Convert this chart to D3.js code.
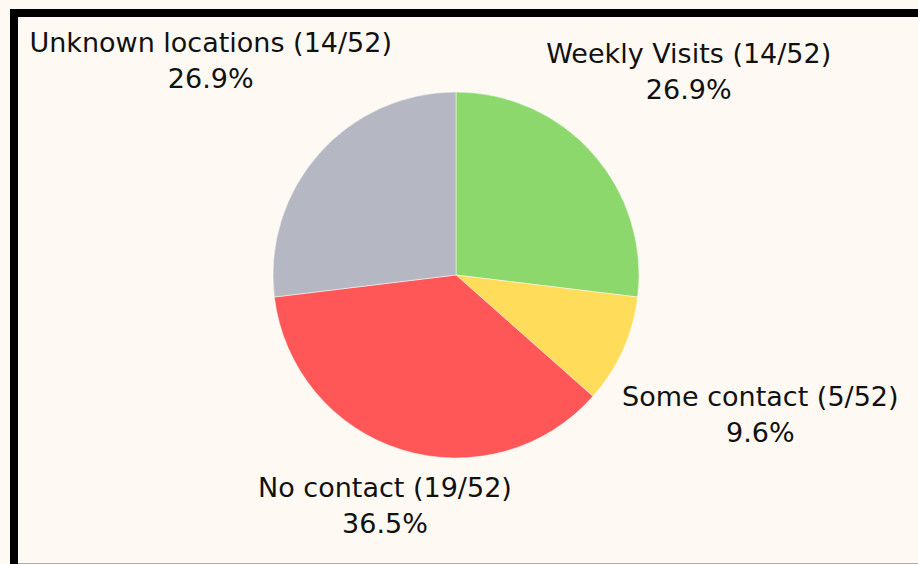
<!DOCTYPE html>
<html>
<head>
<meta charset="utf-8">
<script src="https://cdn.jsdelivr.net/npm/d3@7"></script>
<style>
  html, body { margin: 0; padding: 0; background: #fef9f3; }
  svg { display: block; }
</style>
</head>
<body>
<div id="chart"></div>
<script>
// contact status breakdown (n = 52)
const categories = ["Weekly Visits", "Some contact", "No contact", "Unknown locations"];
const counts = [14, 5, 19, 14];
const total = 52;
const colors = ["#8dd86c", "#ffdc5a", "#ff5757", "#b5b7c2"];

const W = 918, H = 564;
const cx = 456, cy = 275, radius = 183;
const labelGap = 14;   // clearance between rim and nearest edge of a label
const lineStep = 36;   // baseline-to-baseline distance inside a label

const data = categories.map((c, i) => ({ name: c, value: counts[i], color: colors[i] }));

const svg = d3.select("#chart").append("svg")
  .attr("width", W)
  .attr("height", H);

// card background + black border (top / left) + thin bottom line
svg.append("rect").attr("width", W).attr("height", H).attr("fill", "#fef9f3");
svg.append("rect").attr("x", 10).attr("y", 9).attr("width", W - 10).attr("height", 8).attr("fill", "#000");
svg.append("rect").attr("x", 10).attr("y", 9).attr("width", 8).attr("height", H - 9).attr("fill", "#000");
svg.append("line")
  .attr("x1", 18).attr("x2", W)
  .attr("y1", 563.5).attr("y2", 563.5)
  .attr("stroke", "#aaa").attr("stroke-width", 1);

const pie = d3.pie().value(d => d.value).sort(null);
const arc = d3.arc().innerRadius(0).outerRadius(radius);
const arcs = pie(data);

const g = svg.append("g").attr("transform", `translate(${cx},${cy})`);

g.selectAll("path.slice")
  .data(arcs)
  .enter().append("path")
  .attr("class", "slice")
  .attr("d", arc)
  .attr("fill", d => d.data.color)
  .attr("stroke", "#fff")
  .attr("stroke-opacity", 0.6)
  .attr("stroke-width", 0.8);

// outside labels
const labels = g.selectAll("g.lbl")
  .data(arcs)
  .enter().append("g")
  .attr("class", "lbl");

labels.append("text")
  .attr("text-anchor", "middle")
  .attr("y", 0)
  .text(d => `${d.data.name} (${d.data.value}/${total})`);

labels.append("text")
  .attr("text-anchor", "middle")
  .attr("y", lineStep)
  .text(d => d3.format(".1f")(d.data.value / total * 100) + "%");

labels.selectAll("text")
  .style("font-family", "'DejaVu Sans', sans-serif")
  .style("font-size", "27px")
  .style("fill", "#111");

// slide each label box out along its mid angle until the box's
// nearest point sits labelGap px beyond the rim
function boxDist(px, py, hw, hh) {
  const dx = Math.max(Math.abs(px) - hw, 0);
  const dy = Math.max(Math.abs(py) - hh, 0);
  return Math.hypot(dx, dy);
}

labels.each(function(d) {
  const bb = this.getBBox();
  const top = bb.y, bottom = lineStep + 1;   // ignore descender room
  const a = (d.startAngle + d.endAngle) / 2;
  const vx = Math.sin(a), vy = -Math.cos(a);
  const hw = bb.width / 2, hh = (bottom - top) / 2;
  const target = radius + labelGap;
  let lo = 0, hi = 1000;
  for (let k = 0; k < 50; k++) {
    const mid = (lo + hi) / 2;
    if (boxDist(vx * mid, vy * mid, hw, hh) < target) lo = mid; else hi = mid;
  }
  const tx = vx * hi - (bb.x + hw);
  const ty = vy * hi - (top + hh);
  d3.select(this).attr("transform", `translate(${tx},${ty})`);
});
</script>
</body>
</html>
